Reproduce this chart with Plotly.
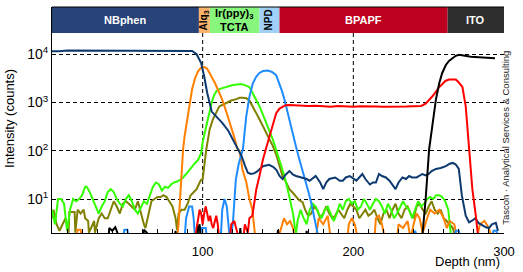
import plotly.graph_objects as go

# ---------------- data ----------------
nbphen_depth = [0, 5, 10, 30, 60, 90, 93, 96, 99, 101, 103, 106, 110, 113, 117, 120, 123, 126, 128, 130,
                132, 134, 136, 140, 144, 147, 149, 151, 153, 155, 157.6, 160, 162, 166, 169, 171, 175, 178,
                180, 182, 184, 188, 191, 193, 195, 197.6, 200, 202, 206, 208, 211, 213, 215, 217, 219,
                221.6, 224, 226, 228, 230, 232.6, 235, 237, 239, 242, 245.8, 248, 250, 252, 254.8, 258,
                261.4, 264, 266, 268, 270, 272, 274.6, 276.8, 279, 281, 283, 285.7, 288, 290, 292, 294.6, 296]
nbphen_counts = [11500, 11500, 12000, 12000, 12000, 12000, 11700, 10000, 6600, 3500, 1600, 650, 470, 380,
                 260, 170, 110, 76, 50, 35, 33, 34, 37, 48, 51, 46, 40, 30, 26, 32, 38, 32, 30, 28, 26, 24,
                 30, 22, 16, 22, 26, 28, 24, 24, 28, 30, 26, 24, 33, 26, 20, 22, 22, 33, 30, 28, 24, 20, 16,
                 22, 28, 26, 30, 28, 28, 33, 31, 33, 38, 42, 44, 48, 54, 56, 52, 42, 12, 4.5, 3.3, 3.6, 4,
                 3.2, 2.8, 2.6, 2.5, 3, 3.2, 2.2]

alq3_depth = [0, 16, 17, 19, 20, 83, 84, 85, 86, 87, 88, 90, 92, 93, 95, 97, 99, 101, 103, 105, 106, 108,
              110, 113, 116, 119, 121, 123, 124.5, 126.5, 129, 131, 133, 134, 135, 150, 152, 154, 156, 158,
              160, 161, 175, 177, 180, 183, 185, 196, 197, 199, 201, 203, 214, 215, 217, 219, 221, 229, 230,
              233, 236, 238, 240, 242, 244, 246, 249, 251, 254, 257, 260, 262, 264, 267, 269, 282, 284, 287,
              290, 292]
alq3_counts = [1.5, 1.5, 2.3, 2.3, 1.5, 1.5, 3, 10, 50, 107, 200, 500, 1200, 1900, 3200, 4500, 5300, 5500,
               5000, 4000, 3400, 2600, 1900, 1150, 600, 315, 190, 110, 100, 40, 22, 10, 6, 3, 1.5, 1.5,
               2.5, 4, 3, 3.5, 2.5, 1.5, 1.5, 4, 3, 4.5, 1.5, 1.5, 3, 4, 3, 1.5, 1.5, 4, 4.5, 3, 1.5, 1.5,
               3, 2.5, 3.5, 1.5, 3, 5, 4, 2, 4, 6, 5, 6, 4, 2.5, 3.5, 3, 1.5, 1.5, 3, 3.5, 2.5, 1.5]

irppy_depth = [0, 2, 4, 6, 8, 10, 12, 14, 16, 18, 20, 22, 23, 25, 27, 29, 31, 33, 35, 37, 39, 41, 43, 45,
               47, 49, 51, 53, 55, 57, 59, 61, 63, 65, 67, 69, 71, 73, 75, 77, 79, 81, 83, 85, 87, 89, 91,
               93, 95, 97, 99, 100, 101.5, 103, 104.5, 106, 107.5, 109, 111, 113.4, 116, 120, 124.5, 126,
               128, 131, 133, 135.6, 138, 140, 143, 146.6, 149, 151, 153, 155.4, 157, 158.7, 160, 161, 162,
               163, 165, 167, 169, 171, 173, 175, 177, 179, 181, 183, 185, 187, 189, 191, 193, 195, 197,
               199, 201, 203, 205, 207, 209, 211, 213, 215, 217, 219, 221, 223, 225, 227, 229, 231, 233,
               235, 237, 239, 241, 243, 245, 247, 249, 251, 253, 255, 257, 259, 261, 263, 264, 265]
irppy_counts = [6, 3, 10, 10, 8, 2.2, 6, 10, 9, 10, 12, 18, 18, 14, 10, 7, 5, 7, 9, 14, 16, 14, 10, 8, 7,
                10, 12, 9, 6, 5, 7, 9, 8, 12, 18, 22, 20, 15, 18, 17, 20, 22, 23, 25, 28, 33, 40, 48, 56, 65,
                90, 150, 250, 400, 620, 1000, 1400, 1700, 1900, 2000, 2150, 2300, 2400, 2400, 2300, 2100,
                1600, 1150, 800, 560, 330, 170, 100, 66, 40, 22, 13, 8.5, 5, 2.8, 2, 3.5, 6, 4, 3, 6, 8, 7,
                5, 4, 6, 7, 5, 3.5, 5, 8, 6, 9, 10, 8, 9, 6, 7, 10, 8, 6, 8, 10, 9, 7, 5, 8, 6, 4, 5, 7, 9,
                7, 6, 4, 6, 9, 7, 8, 10, 11, 10, 12, 12, 11, 9, 6, 3, 1.5]

tcta_depth = [0, 1, 3, 5, 7, 9, 11, 11.5, 15, 15.5, 17, 19, 21, 22, 24, 24.5, 28, 28.5, 31, 33, 35, 37, 39,
              41, 43, 45, 47, 49, 51, 53, 55, 57, 59, 61, 62, 64, 66, 68, 70, 72, 74, 76, 78, 80, 82, 83,
              84, 86, 88, 90, 92, 94, 96, 98, 99, 100, 101.5, 102.4, 103.5, 104.6, 106.8, 109, 111, 113.4,
              116, 119, 122.3, 124.5, 126.7, 128.9, 131, 133.3, 135.6, 137.7, 140, 142.2, 144.4, 146.6,
              149, 151, 153, 155.4, 157.6, 159.8, 162, 164, 166.4, 168, 170, 172, 174, 176, 178, 180, 182,
              184, 186, 188, 190, 192, 194, 196, 198, 200, 202, 204, 206, 208, 210, 212, 214, 216, 218,
              220, 222, 224, 226, 228, 230, 232, 234, 236, 238, 240, 242, 244, 246, 248, 250, 252, 254,
              256, 258, 260, 262, 264, 266, 268]
tcta_counts = [4, 6, 3, 2.2, 3, 4, 2, 5.4, 5.4, 2, 6, 5, 6, 4, 3.5, 2, 3.5, 2, 4, 5, 4, 4, 6, 9, 7, 5, 8,
               9, 8, 7, 6, 9, 5, 3, 2.5, 5, 9, 10, 11, 11, 12, 11, 9, 7, 4, 2.3, 5, 6, 6, 8, 12, 14, 16,
               22, 25, 26, 70, 107, 170, 275, 450, 650, 830, 900, 1000, 1100, 1175, 1250, 1260, 1230,
               1100, 830, 600, 450, 320, 235, 170, 125, 80, 48, 30, 22, 16, 13.5, 11, 9.5, 8.5, 6, 4.5,
               5, 7, 6, 4, 5, 7, 5, 4, 4.5, 6, 5, 4, 6, 8, 7, 6, 4, 5, 6, 4.5, 5, 6, 4, 3, 5, 6, 4, 6, 8,
               5, 4, 6, 7, 5, 4, 7, 8, 6, 5, 7, 9, 6, 5, 6, 4, 3.5, 3, 2.5, 1.5]

npd_depth = [0, 47, 48, 50, 51, 88, 89, 91, 93, 94, 95, 98, 99, 102, 103, 112, 113, 114.5, 116, 117, 118,
             120, 122, 124, 126.7, 128.9, 131, 133.3, 135.5, 137.7, 140, 143.3, 146, 148.8, 151, 152.7,
             154.3, 157, 159.8, 162, 164.2, 166.5, 168.7, 170.5, 172, 173.5, 175, 176, 177, 240, 241, 243,
             267, 268, 270, 271, 292, 293, 295, 296]
npd_counts = [1.5, 1.5, 2.3, 2.3, 1.5, 1.5, 4, 7, 7, 4, 1.5, 1.5, 2.5, 2.5, 1.5, 1.5, 6, 10, 7, 3, 1.5, 3,
              25, 55, 107, 510, 1300, 2500, 3400, 4100, 4500, 4600, 4300, 3700, 2500, 1700, 1150, 500,
              235, 120, 66, 38, 22, 13, 8.5, 5, 3, 2, 1.5, 1.5, 2.2, 1.5, 1.5, 2.2, 2.2, 1.5, 1.5, 2.2,
              2.2, 1.5]

bpapf_depth = [0, 95, 96, 97, 98, 99, 100, 101, 102, 103, 104, 105, 106, 107, 108, 109, 110, 111, 118, 119,
               121, 123, 124, 127, 128, 130, 131, 133, 135.6, 137.7, 140, 142, 144.4, 146.6, 148.8, 151,
               153.2, 155, 157.6, 160, 165, 170, 175, 180, 185, 190, 195, 200, 205, 210, 215, 220, 225,
               230, 235, 240, 245, 248, 250, 252.5, 255, 257, 259, 261, 263.6, 266, 268, 270, 272.4, 274.6,
               276.8, 279, 281.3, 282.4, 283]
bpapf_counts = [1.5, 1.5, 2.5, 4, 6, 5, 3, 5, 7, 5, 3.5, 4.5, 3, 2.5, 3.5, 4.5, 3, 1.5, 1.5, 3, 3.5, 2,
                1.5, 1.5, 3, 2, 4, 4.5, 16, 30, 66, 110, 200, 380, 600, 750, 830, 880, 890, 880, 860, 850,
                860, 840, 820, 850, 830, 820, 840, 850, 830, 820, 820, 810, 830, 840, 850, 950, 1100, 1350,
                1700, 2100, 2400, 2800, 3000, 3050, 3000, 2600, 2100, 830, 107, 16, 4.5, 2, 1.5]

ito_depth = [0, 37, 38, 40, 42, 44, 45, 60, 61, 63, 65, 81, 82, 83, 96, 97, 98, 99, 124, 125, 126, 149,
             150, 151, 168, 169, 170, 245, 246, 248, 250.3, 252.5, 254.8, 257, 259, 261.4, 263.5, 265.8,
             268, 270.2, 272, 274.6, 278, 283.4, 288, 292, 294]
ito_counts = [1, 1, 2.5, 2.2, 2.6, 1.8, 1, 1, 2.3, 2, 1, 1, 2.2, 1, 1, 2.5, 3, 1, 1, 2.5, 1, 1, 2.3, 1, 1,
              2.2, 1, 1, 2, 10, 107, 380, 1150, 2500, 4100, 6000, 7300, 8300, 9300, 9800, 9600, 9100,
              8900, 8700, 8500, 8300, 8300]

layer_names = ["NBphen", "Alq<sub>3</sub>", "Ir(ppy)<sub>3</sub><br>TCTA", "NPD", "BPAPF", "ITO"]
layer_edges = [0, 97.5, 104.8, 137.7, 151.0, 262.6, 300]

y_tick_values = [10, 100, 1000, 10000]
y_tick_text = ["10<sup>1</sup>", "10<sup>2</sup>", "10<sup>3</sup>", "10<sup>4</sup>"]
x_tick_values = [100, 200, 300]
x_tick_text = ["100", "200", "300"]

# ---------------- styles ----------------
layer_fill = ["#284378", "#F9B36D", "#88F57C", "#A0D0F8", "#BE0020", "#2E2E2E"]
layer_text = ["white", "black", "black", "black", "white", "white"]
layer_angle = [0, -90, 0, -90, 0, 0]

series = [
    (tcta_depth, tcta_counts, "#808000"),
    (irppy_depth, irppy_counts, "#33FF00"),
    (alq3_depth, alq3_counts, "#FF8000"),
    (npd_depth, npd_counts, "#1E8CFF"),
    (nbphen_depth, nbphen_counts, "#0D3A6E"),
    (bpapf_depth, bpapf_counts, "#FF0000"),
    (ito_depth, ito_counts, "#000000"),
]

FONT = "Liberation Sans, Arial, sans-serif"

fig = go.Figure()
for xs, ys, col in series:
    fig.add_trace(go.Scatter(x=xs, y=ys, mode="lines", line=dict(color=col, width=2),
                             showlegend=False, hoverinfo="skip"))

band_bottom = 0.885
shapes = []
annotations = []
for i, name in enumerate(layer_names):
    x0, x1 = layer_edges[i], layer_edges[i + 1]
    shapes.append(dict(type="rect", xref="x", yref="paper", x0=x0, x1=x1, y0=band_bottom, y1=1,
                       fillcolor=layer_fill[i], line=dict(width=0), layer="above"))
    annotations.append(dict(x=(x0 + x1) / 2, y=(band_bottom + 1) / 2, xref="x", yref="paper",
                            text="<b>" + name + "</b>", showarrow=False, textangle=layer_angle[i],
                            font=dict(family=FONT, size=11 if layer_angle[i] == 0 else 10,
                                      color=layer_text[i]),
                            xanchor="center", yanchor="middle"))
# top frame line
shapes.append(dict(type="line", xref="paper", yref="paper", x0=0, x1=1, y0=1, y1=1,
                   line=dict(color="black", width=1), layer="above"))
# vertical dashed grid lines
for gx in x_tick_values[:-1]:
    shapes.append(dict(type="line", xref="x", yref="paper", x0=gx, x1=gx, y0=0, y1=band_bottom,
                       line=dict(color="black", width=1, dash="4px,3px"), layer="below"))

annotations += [
    dict(text="Intensity (counts)", xref="paper", yref="paper", x=-0.093, y=0.509, textangle=-90,
         showarrow=False, font=dict(family=FONT, size=13, color="black"), xanchor="center", yanchor="middle"),
    dict(text="Depth (nm)", xref="paper", yref="paper", x=0.9956, y=-0.128, showarrow=False,
         font=dict(family=FONT, size=13, color="black"), xanchor="right", yanchor="middle"),
    dict(text="Tascon · Analytical Services & Consulting", xref="paper", yref="paper", x=1.003, y=0.4226,
         textangle=-90, showarrow=False, font=dict(family=FONT, size=9.5, color="#1a1a1a"),
         xanchor="center", yanchor="middle"),
]

fig.update_layout(
    width=523, height=272,
    margin=dict(l=52, r=19, t=7, b=39, pad=0),
    paper_bgcolor="white", plot_bgcolor="white",
    font=dict(family=FONT, size=13, color="black"),
    shapes=shapes, annotations=annotations,
    xaxis=dict(range=[0, 300], tickmode="array", tickvals=x_tick_values, ticktext=x_tick_text,
               showgrid=False, zeroline=False, showline=True, linecolor="black", linewidth=1,
               ticks="inside", ticklen=4, tickcolor="black", ticklabelstandoff=6,
               minor=dict(tickmode="linear", tick0=0, dtick=10, ticks="inside", ticklen=4,
                          tickcolor="black", showgrid=False),
               tickfont=dict(family=FONT, size=13)),
    yaxis=dict(type="log", range=[0.296, 4.98], tickmode="array", tickvals=y_tick_values,
               ticktext=y_tick_text, showgrid=True, gridcolor="black", gridwidth=1, griddash="4px,3px",
               zeroline=False, showline=True, linecolor="black", linewidth=1, ticks="",
               tickfont=dict(family=FONT, size=14)),
)

fig.write_html("out.html")
